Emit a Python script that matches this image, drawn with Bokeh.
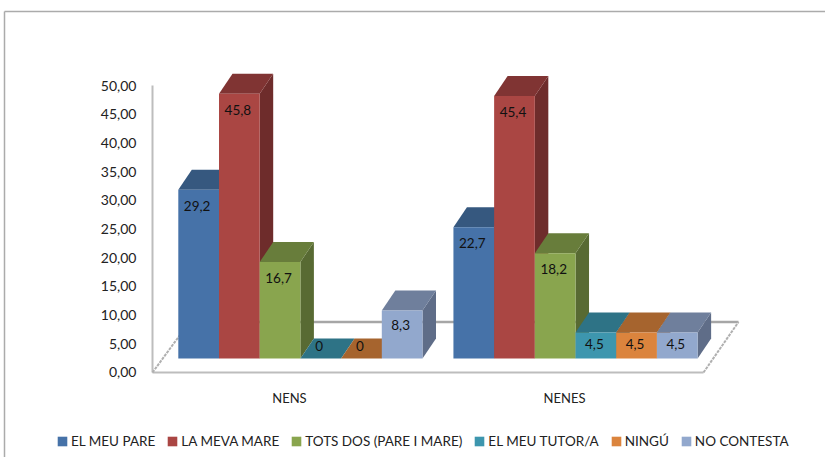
from bokeh.plotting import figure
from bokeh.embed import file_html
from bokeh.resources import INLINE
from bokeh.models import Range1d, LinearAxis, FixedTicker, Legend, LegendItem, ColumnDataSource
from bokeh.core.properties import value

# ---- data ----
groups = ["NENS", "NENES"]
series = ["EL MEU PARE", "LA MEVA MARE", "TOTS DOS (PARE I MARE)", "EL MEU TUTOR/A", "NINGÚ", "NO CONTESTA"]
el_meu_pare = [29.2, 22.7]
la_meva_mare = [45.8, 45.4]
tots_dos = [16.7, 18.2]
el_meu_tutor = [0, 4.5]
ningu = [0, 4.5]
no_contesta = [8.3, 4.5]
labels = [["29,2", "22,7"], ["45,8", "45,4"], ["16,7", "18,2"], ["0", "4,5"], ["0", "4,5"], ["8,3", "4,5"]]
y_ticks = [0, 5, 10, 15, 20, 25, 30, 35, 40, 45, 50]
y_tick_labels = ["0,00", "5,00", "10,00", "15,00", "20,00", "25,00", "30,00", "35,00", "40,00", "45,00", "50,00"]
values = [el_meu_pare, la_meva_mare, tots_dos, el_meu_tutor, ningu, no_contesta]

# ---- style ----
front = ["#4672A8", "#AA4643", "#89A54E", "#3D96AE", "#DB843D", "#92A8CD"]
top = ["#36587F", "#803433", "#687D3B", "#2E7386", "#A6642E", "#6F7F9C"]
side = ["#2F4D70", "#6E2C2B", "#586A33", "#275F6F", "#8A5326", "#5F6D88"]
FONT = "Lato"

# ---- layout (page pixels; the frame fills the whole figure) ----
W, H = 825, 457
BAR_PX, X0_PX = 40.7, 177.8            # bar width and first bar's left edge
BASE_PX, UNIT_PX = 358.0, 5.78         # bar base and px per unit
AX0_PX, AX_UNIT_PX = 371.8, 5.73       # axis zero and px per unit
GROUP_STEP = 6.76                      # group spacing in bar widths
DX, DY = 13.5 / BAR_PX, 20.0 / UNIT_PX # depth of the 3D bars

def px_x(px):
    return (px - X0_PX) / BAR_PX

def px_y(py):
    return (BASE_PX - py) / UNIT_PX

p = figure(width=W, height=H, output_backend="svg", toolbar_location=None,
           x_range=Range1d(px_x(0), px_x(W)), y_range=Range1d(px_y(H), px_y(0)),
           y_axis_location=None, min_border=0,
           outline_line_color=None, background_fill_color="white", border_fill_color="white")
p.grid.visible = False

# value axis, on its own scale (the back wall is not in the plane of the bars)
p.extra_y_ranges = {"wall": Range1d((AX0_PX - H) / AX_UNIT_PX, AX0_PX / AX_UNIT_PX)}
yax = LinearAxis(y_range_name="wall", ticker=FixedTicker(ticks=y_ticks),
                 fixed_location=px_x(136),
                 major_label_overrides=dict(zip(y_ticks, y_tick_labels)),
                 axis_line_color=None, major_tick_line_color=None, minor_tick_line_color=None,
                 major_tick_in=0, major_tick_out=0, major_label_standoff=0,
                 major_label_text_font=FONT, major_label_text_font_size="14px",
                 major_label_text_color="#222222")
p.add_layout(yax, "left")

# category axis
group_ticks = [round(i * GROUP_STEP + 3 - 0.27, 2) for i in range(len(groups))]
p.xaxis.ticker = FixedTicker(ticks=group_ticks)
p.xaxis.fixed_location = px_y(389)
p.xaxis.major_label_overrides = dict(zip(group_ticks, groups))
p.xaxis.axis_line_color = None
p.xaxis.major_tick_line_color = None
p.xaxis.minor_tick_line_color = None
p.xaxis.major_tick_in = 0
p.xaxis.major_tick_out = 0
p.xaxis.major_label_standoff = 0
p.xaxis.major_label_text_font = FONT
p.xaxis.major_label_text_font_size = "13px"
p.xaxis.major_label_text_color = "#222222"

# chart frame
p.line([px_x(4), px_x(4)], [px_y(457), px_y(11)], line_color="#ABABAB", line_width=1.5)
p.line([px_x(4), px_x(825)], [px_y(11), px_y(11)], line_color="#ABABAB", line_width=1.5)

# walls and floor
wall = "#BDBDBD"
p.line([px_x(152), px_x(152)], [px_y(85), px_y(372)], line_color=wall, line_width=2)
p.line([px_x(152), px_x(703)], [px_y(372), px_y(372)], line_color=wall, line_width=2)
p.line([px_x(189), px_x(738)], [px_y(321.5), px_y(321.5)], line_color="#A6A6A6", line_width=2.5)
p.line([px_x(152), px_x(189)], [px_y(372), px_y(321.5)], line_color="#B0B0B0", line_width=2, line_dash="3 1")
p.line([px_x(703), px_x(738)], [px_y(372), px_y(321.5)], line_color="#B0B0B0", line_width=2, line_dash="3 1")

# bars, left to right so that each one hides the depth of the previous
items = []
for i, vals in enumerate(values):
    x0 = [g * GROUP_STEP + i for g in range(len(groups))]
    x1 = [x + 1 for x in x0]
    side_xs = [[b, b, b + DX, b + DX] for b in x1]
    side_ys = [[0, v, v + DY, DY] for v in vals]
    top_xs = [[a, b, b + DX, a + DX] for a, b in zip(x0, x1)]
    top_ys = [[v, v, v + DY, v + DY] for v in vals]
    p.patches(side_xs, side_ys, fill_color=side[i], line_color=None)
    p.patches(top_xs, top_ys, fill_color=top[i], line_color=None)
    r = p.vbar(x=[a + 0.5 for a in x0], width=1, top=vals, bottom=0, fill_color=front[i], line_color=None)
    items.append(LegendItem(label=series[i], renderers=[r]))

# data labels, on top of every bar
for i, vals in enumerate(values):
    xs = [g * GROUP_STEP + i + 0.5 for g in range(len(groups))]
    offs = [(-13 if v == 0 else (12 if v < 5 else (14 if v < 10 else 16))) for v in vals]
    src = ColumnDataSource(dict(x=xs, y=vals, t=labels[i], o=offs))
    p.text(x="x", y="y", text="t", y_offset="o", x_offset=-1.5, source=src, text_align="center",
           text_baseline="middle", text_font=value(FONT), text_font_size="13.5px", text_color="#111111")

# legend
leg = Legend(items=items, orientation="horizontal", location=(56, 8),
             border_line_color=None, background_fill_alpha=0, padding=0, margin=0,
             glyph_width=12, glyph_height=12, label_standoff=3, spacing=11,
             label_text_font=FONT, label_text_font_size="13.5px", label_text_color="#222222")
p.add_layout(leg)

open("out.html", "w").write(file_html(p, INLINE))
